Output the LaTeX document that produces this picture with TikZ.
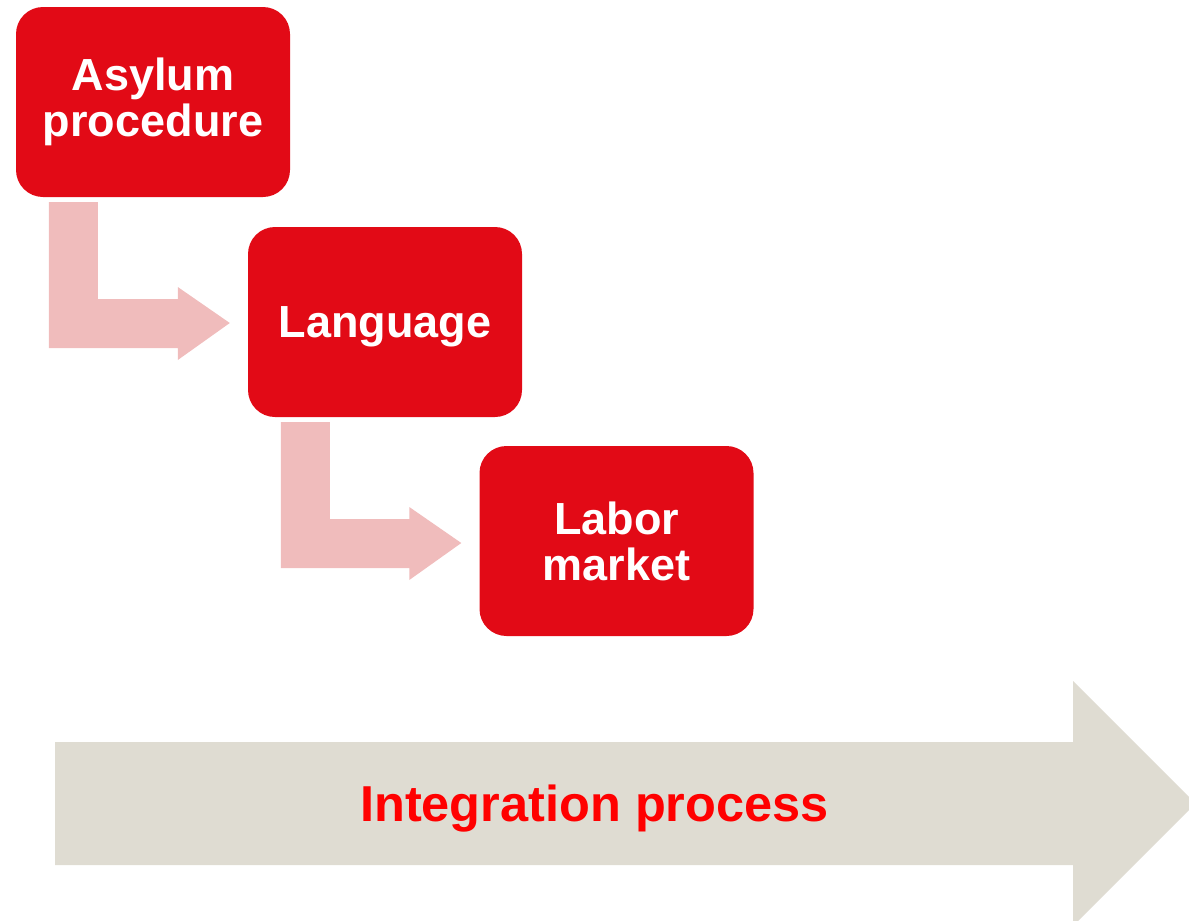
\documentclass[tikz,border=0pt]{standalone}
\usepackage{fontspec}
\setmainfont{Liberation Sans}
\usetikzlibrary{calc}
\definecolor{boxred}{RGB}{226,10,22}
\definecolor{flowpink}{RGB}{240,188,188}
\definecolor{basegrey}{RGB}{223,220,210}
\definecolor{labelred}{RGB}{255,0,0}
\begin{document}
\begin{tikzpicture}[x=1pt,y=-1pt,
    stage/.style={fill=boxred,rounded corners=27pt,minimum width=274pt,minimum height=190pt,
      inner sep=0pt,align=center,text=white,font=\fontsize{45}{46}\selectfont\bfseries},
    flow/.style={fill=flowpink}]
  \clip (0,0) rectangle (1189,921);
  \fill[basegrey] (55,742) -- (1073,742) -- (1073,681) -- (1195.5,803.5)
    -- (1073,926) -- (1073,865) -- (55,865) -- cycle;
  \draw
    (153,102) node[stage] (asylum) {Asylum\\procedure}
    (385,322) node[stage,text depth=0pt] (language) {Language}
    (616.5,541) node[stage] (labor) {Labor\\market};
  \node[anchor=base,text=labelred,font=\fontsize{50.5}{51}\selectfont\bfseries]
    (process) at (594.5,821) {Integration process};
  \begin{scope}[flow]
    \fill ($(asylum.south west)+(33,5)$) coordinate (a1) -- ++(49,0)
      |- ($(language.west)+(-70,-23)$) -- ++(0,-12) -- ($(language.west)+(-18,1)$)
      -- ++(-52,37) -- ++(0,-12) -| (a1) -- cycle;
    \fill ($(language.south west)+(33,5)$) coordinate (b1) -- ++(49,0)
      |- ($(labor.west)+(-70,-22)$) -- ++(0,-12) -- ($(labor.west)+(-18,2)$)
      -- ++(-52,37) -- ++(0,-12) -| (b1) -- cycle;
  \end{scope}
\end{tikzpicture}
\end{document}
